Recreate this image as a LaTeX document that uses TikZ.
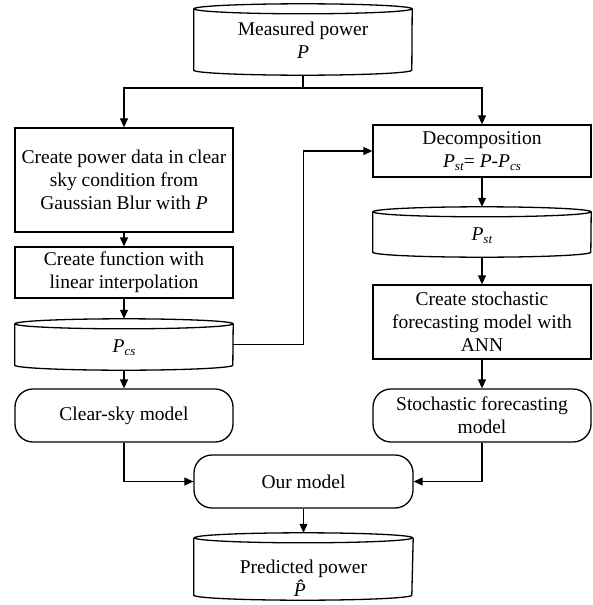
\documentclass[tikz,border=0pt]{standalone}
\usepackage{fontspec}
\setmainfont{Liberation Serif}
\usetikzlibrary{arrows.meta}
\newcommand{\Psb}[1]{\textit{P}\raisebox{-0.35ex}{\fontsize{13}{13}\selectfont\textit{#1}}}
\newcommand{\Phatx}{\textit{P^^^^0302}}
\newcommand{\cylout}[1]{%
  \draw[line width=1.3pt] ([yshift=-5pt]#1.north west) -- ([yshift=5pt]#1.south west)
    arc[start angle=180,end angle=360,x radius=109pt,y radius=5pt] -- ([yshift=-5pt]#1.north east);
  \draw[line width=1.3pt] ([yshift=-5pt]#1.north) ellipse[x radius=109pt,y radius=5pt];}
\begin{document}
\begin{tikzpicture}[x=1pt,y=-1pt, font=\fontsize{19.5}{23}\selectfont,
  box/.style={draw, line width=1.3pt, minimum width=218pt, align=center, inner sep=0pt},
  db/.style={minimum width=218pt, align=center, inner sep=0pt},
  lbl/.style={align=center, inner sep=0pt},
  rbox/.style={box, rounded corners=18pt},
  conn/.style={line width=1.1pt, -{Triangle[length=9pt,width=8pt]}},
  plain/.style={line width=1.1pt}]
\useasboundingbox (0,0) rectangle (592,605);

% left column
\node[db, minimum height=71pt] (mp) at (303,39.5) {};
\node[lbl] (mpt) at (303,40) {Measured power\\\textit{P}};
\node[box, minimum height=104pt] (b1) at (124,180) {Create power data in clear\\sky condition from\\Gaussian Blur with \textit{P}};
\node[box, minimum height=51pt] (b2) at (124,272.5) {Create function with\\linear interpolation};
\node[db, minimum height=51pt] (pcs) at (124,344.5) {};
\node[lbl] (pcst) at (124,348) {\Psb{cs}};
\node[rbox, minimum height=53pt] (cs) at (124,415.5) {Clear-sky model};

% right column
\node[box, minimum height=52pt] (dec) at (482,151) {Decomposition\\\Psb{st}= \textit{P}-\Psb{cs}};
\node[db, minimum height=50pt] (pst) at (482,232) {};
\node[lbl] (pstt) at (482,236) {\Psb{st}};
\node[box, minimum height=74pt] (sto) at (482,322) {Create stochastic\\forecasting model with\\ANN};
\node[rbox, minimum height=53pt] (sfm) at (482,415.5) {Stochastic forecasting\\model};

% bottom
\node[rbox, minimum width=219pt, minimum height=53pt] (our) at (303.5,481.5) {Our model};
\node[db, minimum width=219pt, minimum height=67pt] (pred) at (303.5,566.5) {};
\node[lbl] (predt) at (303.5,578) {Predicted power\\\Phatx};

\cylout{mp}
\cylout{pcs}
\cylout{pst}
\cylout{pred}

% connectors
\coordinate (j) at (303,88);
\draw[plain] (mp.south) -- (j);
\draw[conn] (j) -| (b1.north);
\draw[conn] (j) -| (dec.north);
\draw[conn] (b1) -- (b2);
\draw[conn] (b2) -- (pcs.north);
\draw[conn] (pcs) -- (cs);
\draw[conn] (pcs.east) -- ++(70,0) |- (dec.west);
\draw[conn] (dec) -- (pst.north);
\draw[conn] (pst.south) -- (sto);
\draw[conn] (sto) -- (sfm);
\draw[conn] (cs.south) |- (our.west);
\draw[conn] (sfm.south) |- (our.east);
\draw[conn] (our) -- (pred.north);
\end{tikzpicture}
\end{document}
